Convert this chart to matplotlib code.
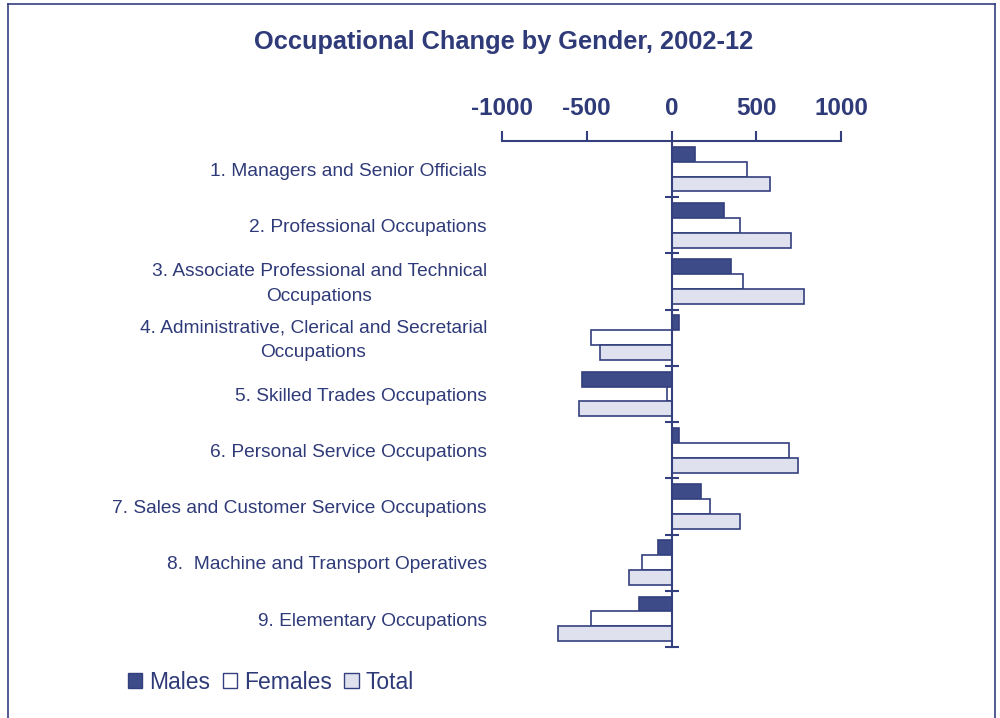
import matplotlib
import numpy as np

matplotlib.use("Agg")
import matplotlib.pyplot as plt
from matplotlib.lines import Line2D
from matplotlib.patches import Patch
from matplotlib.transforms import blended_transform_factory

categories = [
    "1. Managers and Senior Officials",
    "2. Professional Occupations",
    "3. Associate Professional and Technical\nOccupations",
    "4. Administrative, Clerical and Secretarial\nOccupations",
    "5. Skilled Trades Occupations",
    "6. Personal Service Occupations",
    "7. Sales and Customer Service Occupations",
    "8.  Machine and Transport Operatives",
    "9. Elementary Occupations",
]
males = [138, 308, 349, 47, -527, 45, 172, -77, -193]
females = [446, 402, 422, -475, -25, 696, 227, -176, -475]
total = [580, 704, 779, -424, -543, 749, 404, -249, -669]
ticks = [-1000, -500, 0, 500, 1000]

navy = "#34407e"
text_col = "#2f3a78"
male_col = "#3d4b88"
total_col = "#dfe2ee"

plt.rcParams["font.family"] = ["Liberation Sans", "DejaVu Sans"]

fig = plt.figure(figsize=(10, 7.18), dpi=100)
ax = fig.add_axes([0.502, 0.0989, 0.339, 0.7047])

y = np.arange(len(categories))
h = 0.265
ax.barh(y - h, males, height=h, color=male_col, edgecolor=navy, linewidth=1.2)
ax.barh(y, females, height=h, color="white", edgecolor=navy, linewidth=1.2)
ax.barh(y + h, total, height=h, color=total_col, edgecolor=navy, linewidth=1.2)

ax.set_xlim(-1000, 1000)
ax.set_ylim(len(categories) - 0.5, -0.5)
ax.xaxis.tick_top()
ax.set_xticks(ticks)
ax.set_xticklabels([str(t) for t in ticks], fontsize=17.5, fontweight="bold", color=text_col)
ax.tick_params(axis="x", direction="out", length=7, width=1.5, color=navy, pad=8)

for side in ["right", "bottom"]:
    ax.spines[side].set_visible(False)
ax.spines["top"].set_color(navy)
ax.spines["top"].set_linewidth(1.5)
ax.spines["left"].set_position(("data", 0))
ax.spines["left"].set_color(navy)
ax.spines["left"].set_linewidth(1.5)
ax.set_yticks(np.arange(len(categories)) + 0.5)
ax.set_yticklabels([])
ax.tick_params(axis="y", direction="inout", length=10, width=1.5, color=navy)

trans = blended_transform_factory(ax.transAxes, ax.transData)
for i, label in enumerate(categories):
    ax.text(-0.044, i + 0.04, label, transform=trans, ha="right", va="center",
            multialignment="center", fontsize=13.8, linespacing=1.6,
            color=text_col)

fig.text(0.5035, 0.9415, "Occupational Change by Gender, 2002-12",
         ha="center", va="center", fontsize=18.3, fontweight="bold", color=text_col)

handles = [
    Patch(facecolor=male_col, edgecolor=navy),
    Patch(facecolor="white", edgecolor=navy),
    Patch(facecolor=total_col, edgecolor=navy),
]
fig.legend(handles, ["Males", "Females", "Total"], loc="center left",
           bbox_to_anchor=(0.112, 0.05), ncol=3, frameon=False, fontsize=16.5,
           handlelength=0.62, handleheight=0.62, handletextpad=0.3,
           columnspacing=0.55, labelcolor=text_col, borderpad=0.2)

# page frame of the scan
for xs, ys in [([0.008, 0.008], [0.0, 0.995]), ([0.008, 0.995], [0.995, 0.995]),
               ([0.995, 0.995], [0.0, 0.995])]:
    fig.add_artist(Line2D(xs, ys, color=navy, linewidth=1.2, transform=fig.transFigure))

fig.savefig("out.png", dpi=100)
